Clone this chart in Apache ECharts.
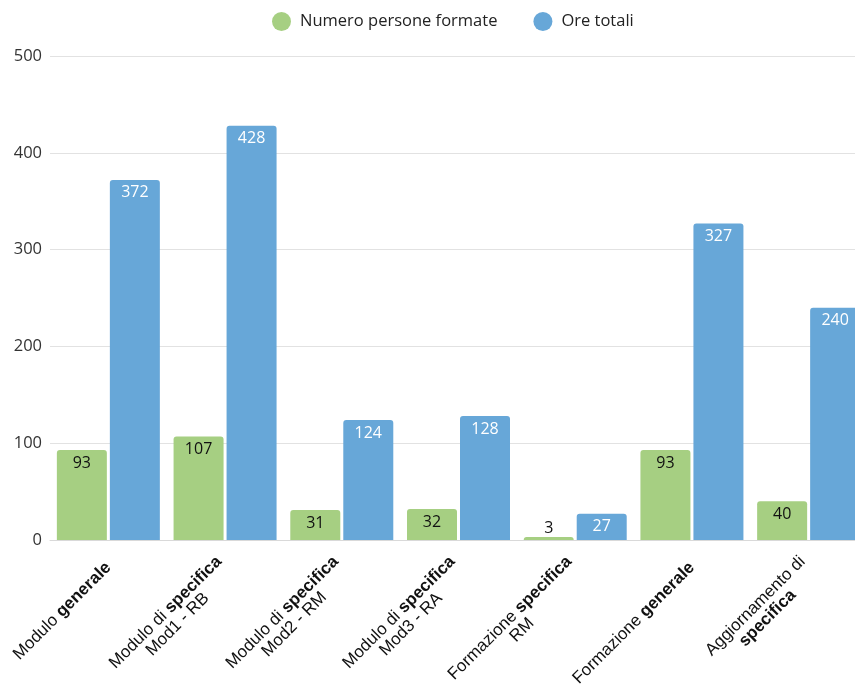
<!DOCTYPE html>
<html>
<head>
<meta charset="utf-8">
<script src="https://cdn.jsdelivr.net/npm/echarts@6/dist/echarts.min.js"></script>
<style>html,body{margin:0;padding:0;background:#fff;}#c{width:855px;height:698px;}</style>
</head>
<body>
<div id="c"></div>
<script>
var categories = [
  '{n|Modulo }{b|generale}',
  '{n|Modulo di }{b|specifica}\n{n|Mod1 - RB}',
  '{n|Modulo di }{b|specifica}\n{n|Mod2 - RM}',
  '{n|Modulo di }{b|specifica}\n{n|Mod3 - RA}',
  '{n|Formazione }{b|specifica}\n{n|RM}',
  '{n|Formazione }{b|generale}',
  '{n|Aggiornamento di}\n{b|specifica}'
];
var persone = [93, 107, 31, 32, 3, 93, 40];
var ore = [372, 428, 124, 128, 27, 327, 240];
var yTicks = [0, 100, 200, 300, 400, 500];

function withLabelPos(arr) {
  return arr.map(function (v) {
    return v < 15 ? {value: v, label: {position: 'top', distance: 1}} : v;
  });
}

var chart = echarts.init(document.getElementById('c'));
chart.setOption({
  animation: false,
  textStyle: {fontFamily: 'Open Sans'},
  legend: {
    top: 7, left: 267,
    icon: 'circle', itemWidth: 19, itemHeight: 19, itemGap: 36,
    textStyle: {fontSize: 16.5, color: '#222', fontFamily: 'Open Sans', padding: [0, 0, 0, 4]},
    data: ['Numero persone formate', 'Ore totali']
  },
  grid: {left: 50, width: 817, top: 56, bottom: 158, outerBoundsMode: 'none', containLabel: false},
  xAxis: {
    type: 'category',
    data: categories,
    axisLine: {lineStyle: {color: '#d9d9d9'}},
    axisTick: {show: false},
    axisLabel: {
      rotate: 45, margin: 25, interval: 0,
      fontFamily: 'Liberation Sans', fontSize: 17, color: '#111',
      rich: {
        n: {fontFamily: 'Liberation Sans', fontSize: 17, color: '#111', align: 'center'},
        b: {fontFamily: 'Liberation Sans', fontSize: 17, color: '#111', fontWeight: 'bold', align: 'center'}
      }
    }
  },
  yAxis: {
    type: 'value', min: 0, max: 500, interval: 100,
    axisLine: {show: false}, axisTick: {show: false},
    axisLabel: {
      margin: 8, fontSize: 16.5, color: '#333', fontFamily: 'Open Sans',
      formatter: function (v) { return yTicks.indexOf(v) >= 0 ? String(v) : ''; }
    },
    splitLine: {lineStyle: {color: '#e2e2e2', width: 1}}
  },
  series: [
    {
      name: 'Numero persone formate', type: 'bar', data: withLabelPos(persone),
      barWidth: 50, barGap: '6%', barCategoryGap: '11%',
      itemStyle: {color: '#A6CF82', borderRadius: [3, 3, 0, 0]},
      label: {show: true, position: 'insideTop', distance: 5, fontSize: 16, color: '#111', fontFamily: 'Open Sans'}
    },
    {
      name: 'Ore totali', type: 'bar', data: withLabelPos(ore),
      barWidth: 50,
      itemStyle: {color: '#67A7D8', borderRadius: [3, 3, 0, 0]},
      label: {show: true, position: 'insideTop', distance: 5, fontSize: 16, color: '#fff', fontFamily: 'Open Sans'}
    }
  ]
});
</script>
</body>
</html>
